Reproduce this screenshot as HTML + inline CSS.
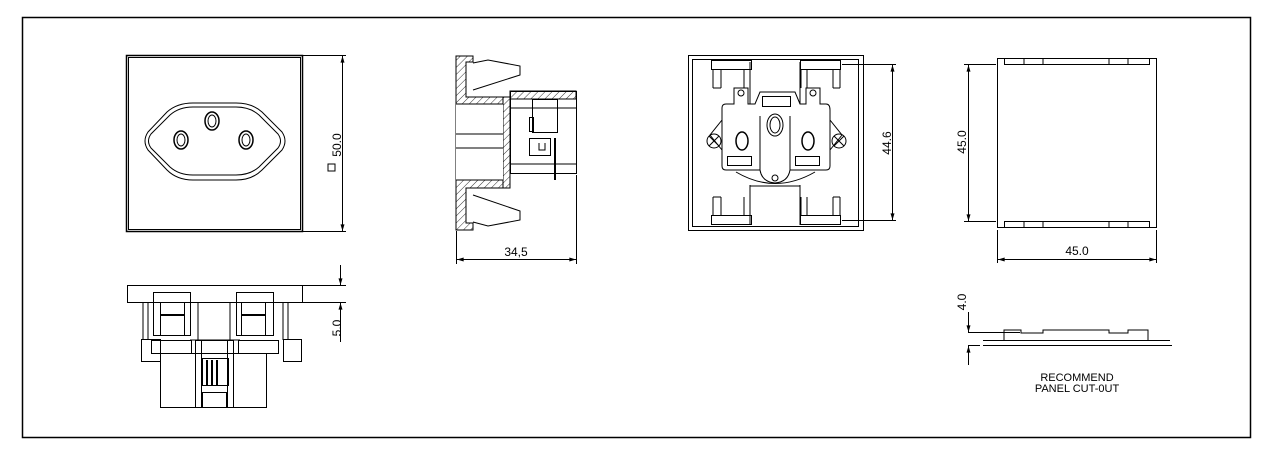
<!DOCTYPE html>
<html><head><meta charset="utf-8"><style>
html,body{margin:0;padding:0;background:#fff;}
svg{display:block;}
text{font-family:"Liberation Sans",sans-serif;font-size:12px;fill:#000;}
</style></head><body>
<svg width="1274" height="454" viewBox="0 0 1274 454" xmlns="http://www.w3.org/2000/svg">
<defs>
<pattern id="h" width="5" height="5" patternUnits="userSpaceOnUse" patternTransform="rotate(45)">
<line x1="0" y1="0" x2="0" y2="5" stroke="#000" stroke-width="0.8"/></pattern>
<marker id="a" viewBox="0 0 10 6" refX="10" refY="3" markerWidth="10" markerHeight="4" orient="auto-start-reverse"><path d="M0,0L10,3L0,6z" fill="#000"/></marker>
</defs>
<rect x="22.5" y="17.5" width="1228" height="420" fill="none" stroke="#000" stroke-width="1.5"/>
<g fill="none" stroke="#000" stroke-width="1">
<!-- front view -->
<rect x="126.5" y="55.5" width="176" height="176" stroke-width="1.5"/>
<rect x="128.5" y="57.5" width="172" height="172"/>
<path d="M193,103 L236,103 Q252,103 262,112 L282,132 Q288,141 282,150 L262,170 Q252,180 236,180 L193,180 Q177,180 167,170 L148,150 Q142,141 148,132 L167,112 Q177,103 193,103Z"/>
<path d="M193,107 L236,107 Q250,107 259,115 L278,134 Q283,141 278,148 L259,167 Q250,175 236,175 L193,175 Q179,175 170,167 L151,148 Q146,141 151,134 L170,115 Q179,107 193,107Z"/>
<g stroke-width="1.5"><ellipse cx="181" cy="140" rx="7" ry="9"/><ellipse cx="212" cy="121" rx="7" ry="9"/><ellipse cx="246" cy="140" rx="7" ry="9"/></g>
<g stroke-width="1"><ellipse cx="181" cy="140" rx="4" ry="6"/><ellipse cx="212" cy="121" rx="4" ry="6"/><ellipse cx="246" cy="140" rx="4" ry="6"/></g>
<line x1="303" y1="55.5" x2="346" y2="55.5"/><line x1="303" y1="231.5" x2="346" y2="231.5"/>
<line x1="342.5" y1="56" x2="342.5" y2="231" marker-start="url(#a)" marker-end="url(#a)"/>
<rect x="328" y="164" width="7" height="7"/>
<!-- bottom view -->
<rect x="127.5" y="285.5" width="175" height="17"/>
<rect x="153.5" y="292.5" width="37" height="43"/><rect x="160.5" y="302.5" width="24" height="33"/>
<line x1="160" y1="315" x2="184" y2="315" stroke-width="2"/>
<rect x="236.5" y="292.5" width="37" height="43"/><rect x="241.5" y="302.5" width="24" height="33"/>
<line x1="241" y1="315" x2="265" y2="315" stroke-width="2"/>
<line x1="143" y1="303" x2="143" y2="340"/><line x1="148" y1="303" x2="148" y2="340"/>
<line x1="283" y1="303" x2="283" y2="340"/><line x1="288" y1="303" x2="288" y2="340"/>
<line x1="198" y1="303" x2="198" y2="340"/><line x1="230" y1="303" x2="230" y2="340"/>
<rect x="141.5" y="339.5" width="19" height="22"/><rect x="283.5" y="339.5" width="18" height="22"/>
<rect x="151.5" y="340.5" width="40" height="13"/><rect x="238.5" y="340.5" width="40" height="13"/>
<rect x="160.5" y="353.5" width="106" height="54"/>
<line x1="190" y1="340" x2="240" y2="340"/>
<rect x="195.5" y="340.5" width="38" height="67"/><rect x="201.5" y="340.5" width="26" height="67"/>
<rect x="202.5" y="358.5" width="26" height="27"/>
<line x1="207" y1="360" x2="207" y2="385" stroke-width="2"/><line x1="212" y1="360" x2="212" y2="385" stroke-width="2"/><line x1="217" y1="360" x2="217" y2="385" stroke-width="2"/>
<rect x="202.5" y="392.5" width="24" height="15"/>
<line x1="303" y1="285.5" x2="346" y2="285.5"/><line x1="303" y1="302.5" x2="346" y2="302.5"/>
<line x1="340.5" y1="265" x2="340.5" y2="285" marker-end="url(#a)"/>
<line x1="340.5" y1="342" x2="340.5" y2="303" marker-end="url(#a)"/>
<!-- side view -->
<path d="M456,56 L473,56 L473,62 L466,62 L466,97 L510,97 L510,188 L466,188 L466,223 L473,223 L473,230 L456,230Z" fill="url(#h)"/>
<path d="M466,62 L466,97 L503,97 L503,188 L466,188 L466,223" />
<rect x="456" y="104" width="47" height="76" fill="#fff" stroke="none"/>
<line x1="456" y1="104" x2="503" y2="104"/><line x1="456" y1="180" x2="503" y2="180"/>
<line x1="456" y1="134" x2="503" y2="134"/><line x1="456" y1="148" x2="503" y2="148"/>
<path d="M473,63 L488,60 L520,66 L520,75 L473,90"/><path d="M473,195 L520,211 L520,220 L488,226 L473,222"/>
<rect x="510.5" y="91.5" width="66" height="82"/>
<rect x="510" y="91" width="66" height="8" fill="url(#h)"/>
<line x1="510" y1="99" x2="576" y2="99"/>
<rect x="532.5" y="99.5" width="25" height="33"/>
<rect x="529.5" y="117.5" width="4" height="14"/>
<rect x="529.5" y="138.5" width="21" height="17"/>
<path d="M539,143 L539,150 L545,150 L545,143"/>
<line x1="555" y1="138" x2="555" y2="180" stroke-width="2"/>
<line x1="510" y1="108" x2="576" y2="108"/><line x1="510" y1="164" x2="576" y2="164"/>
<line x1="456.5" y1="231" x2="456.5" y2="264"/><line x1="576.5" y1="175" x2="576.5" y2="264"/>
<line x1="457" y1="259.5" x2="576" y2="259.5" marker-start="url(#a)" marker-end="url(#a)"/>
<!-- back view -->
<rect x="688.5" y="55.5" width="175" height="175"/>
<rect x="692.5" y="59.5" width="166" height="167"/>
<rect x="711.5" y="60.5" width="40" height="9"/><rect x="800.5" y="60.5" width="40" height="9"/>
<rect x="711.5" y="215.5" width="40" height="9"/><rect x="800.5" y="215.5" width="40" height="9"/>
<line x1="713" y1="69" x2="713" y2="88"/><line x1="721" y1="69" x2="721" y2="88"/><line x1="713" y1="88" x2="721" y2="88"/>
<line x1="744" y1="69" x2="744" y2="88"/><line x1="750" y1="69" x2="750" y2="88"/>
<line x1="801" y1="69" x2="801" y2="88"/><line x1="807" y1="69" x2="807" y2="88"/>
<line x1="833" y1="69" x2="833" y2="88"/><line x1="840" y1="69" x2="840" y2="88"/><line x1="833" y1="88" x2="840" y2="88"/>
<line x1="713" y1="197" x2="713" y2="216"/><line x1="721" y1="197" x2="721" y2="216"/><line x1="713" y1="197" x2="721" y2="197"/>
<line x1="744" y1="197" x2="744" y2="216"/><line x1="750" y1="197" x2="750" y2="216"/>
<line x1="801" y1="197" x2="801" y2="216"/><line x1="807" y1="197" x2="807" y2="216"/>
<line x1="833" y1="197" x2="833" y2="216"/><line x1="840" y1="197" x2="840" y2="216"/><line x1="833" y1="197" x2="840" y2="197"/>
<line x1="750" y1="62" x2="750" y2="104"/><line x1="800" y1="62" x2="800" y2="104"/>
<line x1="750" y1="185" x2="750" y2="225"/><line x1="800" y1="185" x2="800" y2="225"/>
<path d="M726,104 L734,104 L734,88 L748,88 L748,104 L755,104 L760,92 L795,92 L800,104 L806,104 L806,88 L820,88 L820,104 L826,104 Q830,104 830,110 L830,166 Q830,170 826,170 L790,170 Q788,182 775,183 Q762,182 760,170 L726,170 Q722,170 722,166 L722,108 Q722,104 726,104Z" fill="#fff"/>
<path d="M736,172 Q775,195 815,172"/>
<path d="M722,120 L710,135 L722,150"/><path d="M830,120 L842,135 L830,150"/>
<circle cx="714" cy="141" r="7"/><path d="M709,136 L719,146 M719,136 L709,146"/>
<circle cx="839" cy="141" r="7"/><path d="M834,136 L844,146 M844,136 L834,146"/>
<circle cx="741" cy="93" r="3"/><circle cx="813" cy="93" r="3"/><circle cx="775" cy="178" r="3"/>
<rect x="762.5" y="96.5" width="28" height="10"/>
<ellipse cx="775" cy="125" rx="8" ry="11"/><ellipse cx="775" cy="125" rx="5" ry="8"/>
<ellipse cx="742" cy="141" rx="6" ry="9" stroke-width="1.5"/><ellipse cx="808" cy="141" rx="6" ry="9" stroke-width="1.5"/>
<rect x="727.5" y="156.5" width="24" height="9"/><rect x="795.5" y="156.5" width="24" height="9"/>
<line x1="760" y1="116" x2="760" y2="170"/><line x1="790" y1="116" x2="790" y2="170"/>
<line x1="750" y1="186" x2="800" y2="186"/>
<line x1="842" y1="64.5" x2="896" y2="64.5"/><line x1="842" y1="220.5" x2="896" y2="220.5"/>
<line x1="892.5" y1="65" x2="892.5" y2="220" marker-start="url(#a)" marker-end="url(#a)"/>
<!-- cut-out view -->
<rect x="997.5" y="58.5" width="159" height="169"/>
<rect x="1004.5" y="58.5" width="145" height="6"/><rect x="1004.5" y="221.5" width="145" height="6"/>
<path d="M1024,58v6M1043,58v6M1109,58v6M1128,58v6M1024,222v6M1043,222v6M1109,222v6M1128,222v6"/>
<line x1="964" y1="64.5" x2="996" y2="64.5"/><line x1="964" y1="221.5" x2="996" y2="221.5"/>
<line x1="968.5" y1="65" x2="968.5" y2="221" marker-start="url(#a)" marker-end="url(#a)"/>
<line x1="997.5" y1="230" x2="997.5" y2="263"/><line x1="1156.5" y1="230" x2="1156.5" y2="263"/>
<line x1="998" y1="259.5" x2="1156" y2="259.5" marker-start="url(#a)" marker-end="url(#a)"/>
<path d="M1004,340 L1004,330 L1021,330 L1021,333 L1043,333 L1043,330 L1109,330 L1109,333 L1128,333 L1128,330 L1148,330 L1148,340"/>
<line x1="968" y1="332.5" x2="1020" y2="332.5"/>
<line x1="983" y1="340.5" x2="1170" y2="340.5"/><line x1="983" y1="345.5" x2="1172" y2="345.5"/>
<line x1="968" y1="345.5" x2="980" y2="345.5"/>
<line x1="968.5" y1="312" x2="968.5" y2="332" marker-end="url(#a)"/>
<line x1="968.5" y1="365" x2="968.5" y2="346" marker-end="url(#a)"/>
</g>
<text x="337" y="145" text-anchor="middle" transform="rotate(-90 337 145)" dy="4">50.0</text>
<text x="337" y="328" text-anchor="middle" transform="rotate(-90 337 328)" dy="4">5.0</text>
<text x="516" y="256" text-anchor="middle">34,5</text>
<text x="887" y="143" text-anchor="middle" transform="rotate(-90 887 143)" dy="4">44.6</text>
<text x="962" y="142" text-anchor="middle" transform="rotate(-90 962 142)" dy="4">45.0</text>
<text x="1077" y="255" text-anchor="middle">45.0</text>
<text x="962" y="302" text-anchor="middle" transform="rotate(-90 962 302)" dy="4">4.0</text>
<text x="1077" y="381" text-anchor="middle" style="font-size:11px">RECOMMEND</text>
<text x="1077" y="392" text-anchor="middle" style="font-size:11px">PANEL CUT-0UT</text>
</svg>
</body></html>
